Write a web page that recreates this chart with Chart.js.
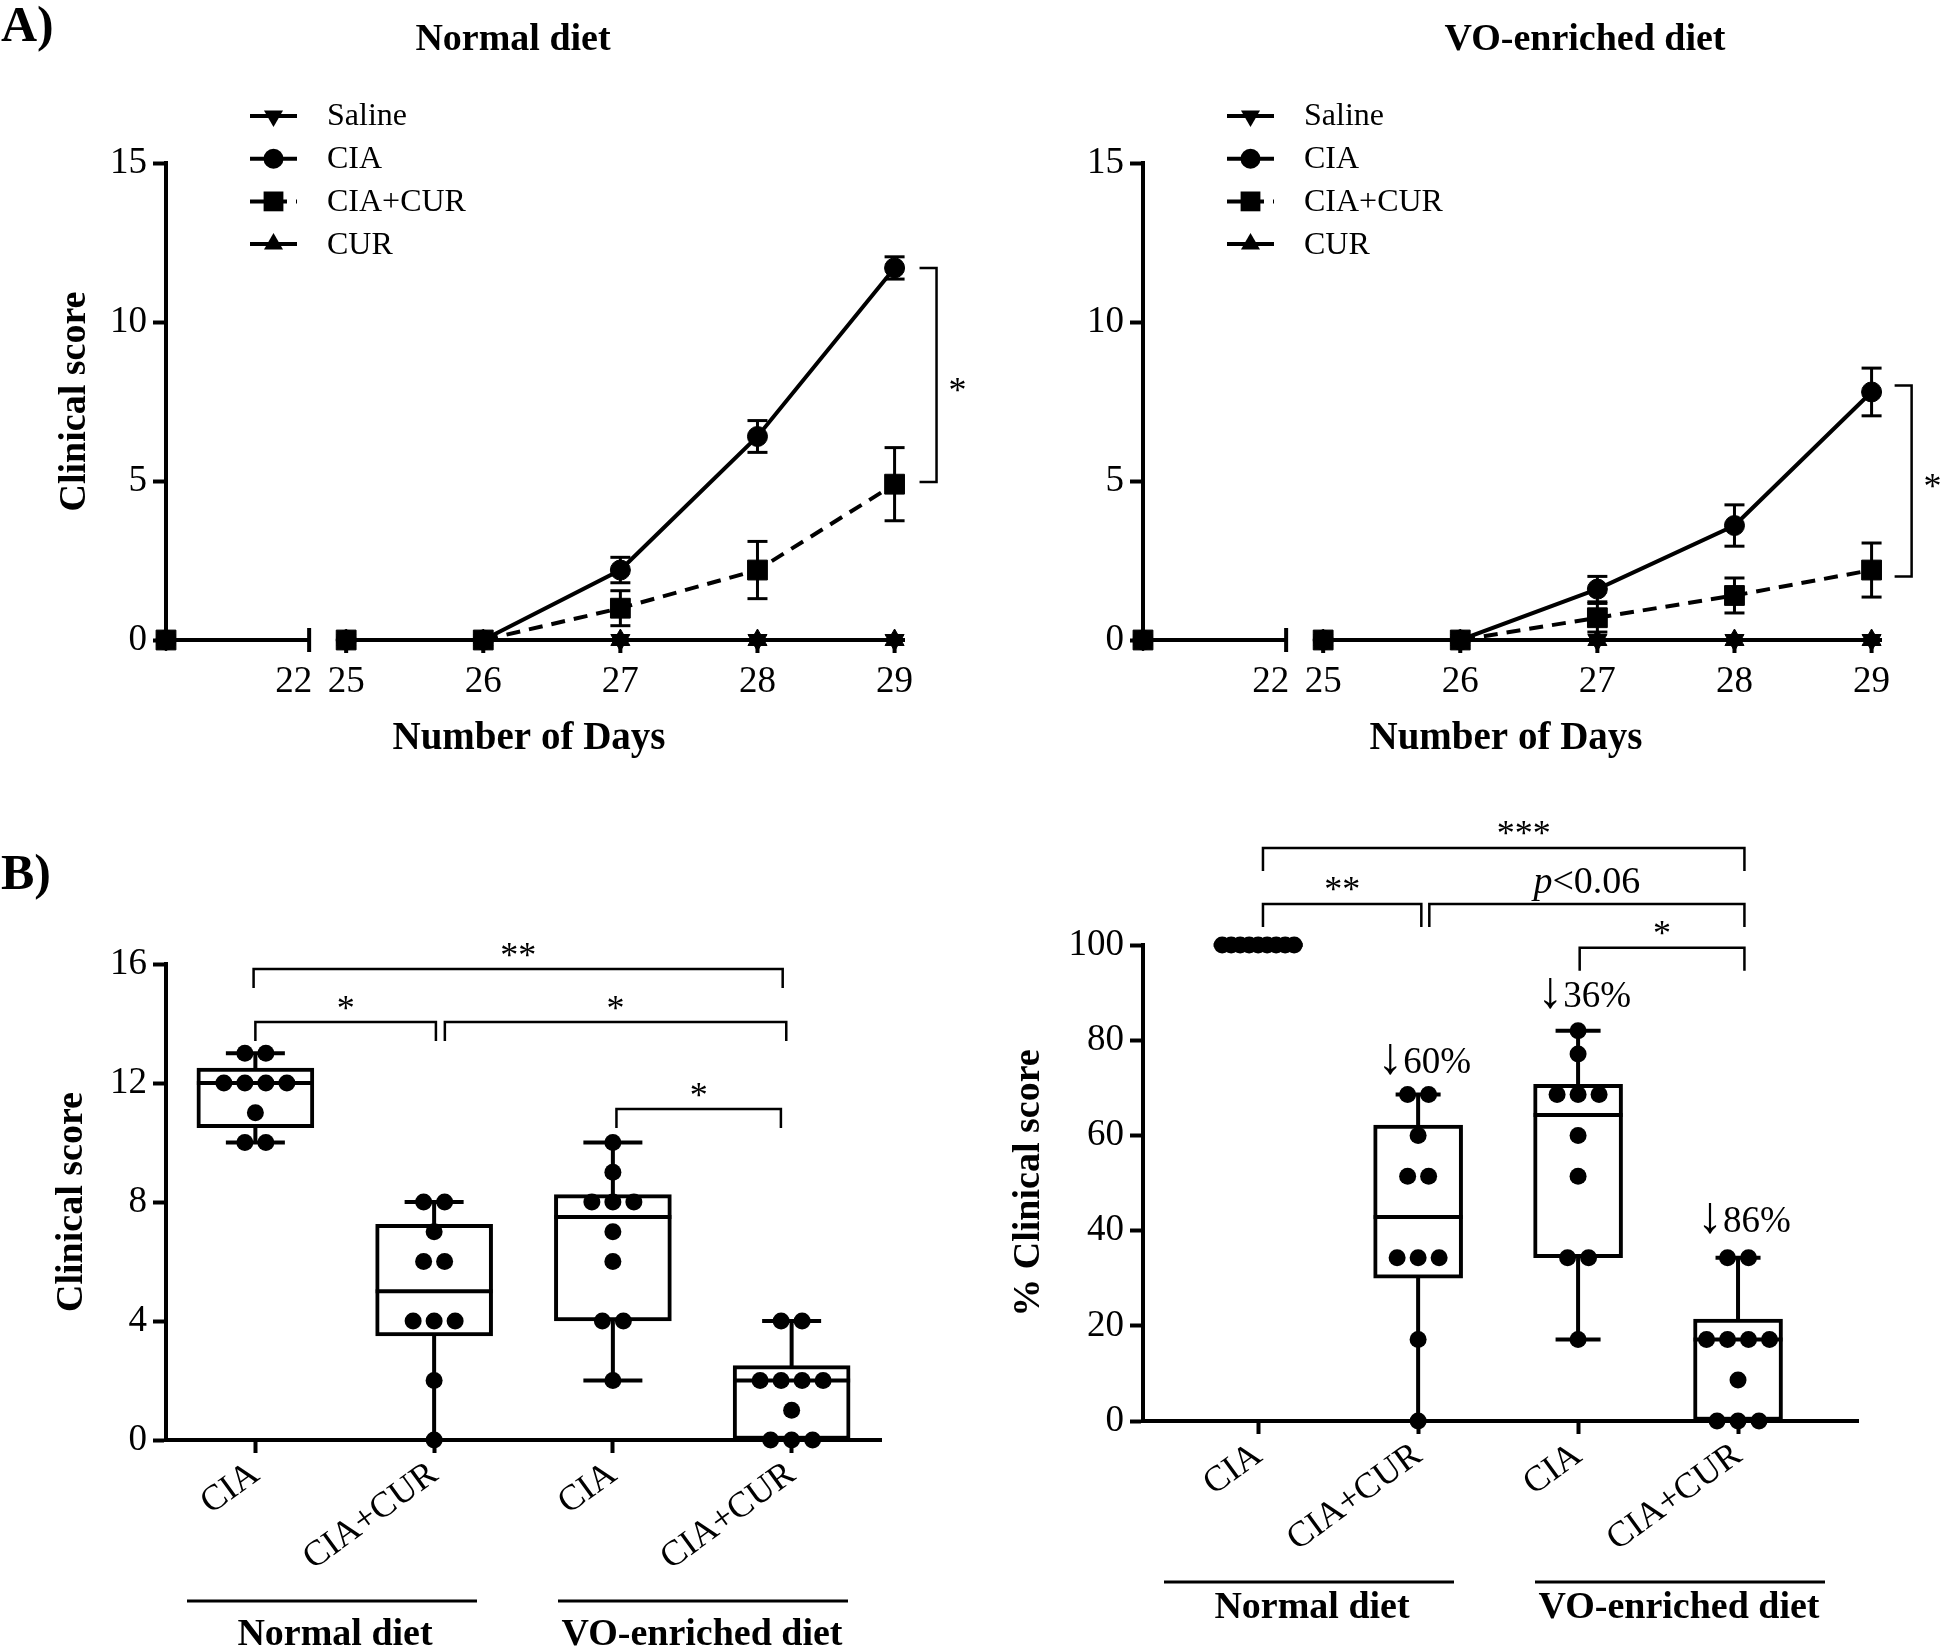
<!DOCTYPE html>
<html>
<head>
<meta charset="utf-8">
<title>Clinical score</title>
<script src="https://cdn.jsdelivr.net/npm/chart.js@4.4.1/dist/chart.umd.min.js"></script>
<style>
  html, body { margin: 0; padding: 0; background: #fff; }
  #page { position: relative; width: 1946px; height: 1650px; overflow: hidden; font-family: "Liberation Serif", "Times New Roman", serif; color: #000; }
  #page canvas { position: absolute; }
  .txt { position: absolute; font-weight: bold; white-space: nowrap; }
  .panel { font-size: 50px; line-height: 50px; }
  .title { font-size: 38px; line-height: 38px; width: 400px; text-align: center; top: 18px; }
</style>
</head>
<body>
<div id="page">
  <canvas id="chartA1" width="975" height="780" style="left:0;top:0"></canvas>
  <canvas id="chartA2" width="975" height="780" style="left:977px;top:0"></canvas>
  <canvas id="chartB1" width="975" height="850" style="left:0;top:800px"></canvas>
  <canvas id="chartB2" width="969" height="850" style="left:977px;top:800px"></canvas>
  <div class="txt panel" style="left:1px;top:-1px">A)</div>
  <div class="txt panel" style="left:1px;top:847px">B)</div>
  <div class="txt title" style="left:313px">Normal diet</div>
  <div class="txt title" style="left:1385px">VO-enriched diet</div>
</div>
<script>
Chart.defaults.font.family = '"Liberation Serif", "Times New Roman", serif';
Chart.defaults.color = '#000';
Chart.defaults.animation = false;

const SERIF = '"Liberation Serif", "Times New Roman", serif';

// ---------- A) clinical score over time ----------
const days = [0, 25, 26, 27, 28, 29];
const dayTicks = [22, 25, 26, 27, 28, 29];

// normal diet
const normSaline = [0, 0, 0, 0, 0, 0];
const normCIA = [0, 0, 0, 2.2, 6.4, 11.7];
const normCIAsem = [0, 0, 0, 0.4, 0.5, 0.35];
const normCIACUR = [0, 0, 0, 1.0, 2.2, 4.9];
const normCIACURsem = [0, 0, 0, 0.55, 0.9, 1.15];
const normCUR = [0, 0, 0, 0, 0, 0];

// VO-enriched diet
const voSaline = [0, 0, 0, 0, 0, 0];
const voCIA = [0, 0, 0, 1.6, 3.6, 7.8];
const voCIAsem = [0, 0, 0, 0.4, 0.65, 0.75];
const voCIACUR = [0, 0, 0, 0.7, 1.4, 2.2];
const voCIACURsem = [0, 0, 0, 0.45, 0.55, 0.85];
const voCUR = [0, 0, 0, 0, 0, 0];

// broken x axis: 0-22 squeezed into a short first segment, then 25..29
const SEG1 = 1.044, DAY25 = 1.314;
function axisPos(d) { return d <= 22 ? d / 22 * SEG1 : DAY25 + (d - 25); }

const seriesStyle = {
  'Saline':  { pointStyle: 'triangle', rotation: 180, radius: 11, dash: [] },
  'CIA':     { pointStyle: 'circle', rotation: 0, radius: 10, dash: [] },
  'CIA+CUR': { pointStyle: 'rect', rotation: 0, radius: 14, dash: [14, 9] },
  'CUR':     { pointStyle: 'triangle', rotation: 0, radius: 11, dash: [] }
};

function marker(ctx, st, x, y) {
  const r = st.radius;
  ctx.beginPath();
  if (st.pointStyle === 'circle') {
    ctx.arc(x, y, r, 0, Math.PI * 2);
  } else if (st.pointStyle === 'rect') {
    const h = r * Math.SQRT1_2;
    ctx.rect(x - h, y - h, 2 * h, 2 * h);
  } else {
    const s = st.rotation ? -1 : 1;
    ctx.moveTo(x, y - s * r);
    ctx.lineTo(x + r * 0.866, y + s * r / 2);
    ctx.lineTo(x - r * 0.866, y + s * r / 2);
    ctx.closePath();
  }
  ctx.fill();
}

function lineSet(label, vals, order) {
  const st = seriesStyle[label];
  return {
    type: 'line', label: label, order: order,
    data: days.map((d, i) => ({ x: axisPos(d), y: vals[i] })),
    borderColor: '#000', borderWidth: 4, borderDash: st.dash,
    pointStyle: st.pointStyle, pointRotation: st.rotation, pointRadius: st.radius,
    pointBackgroundColor: '#000', pointBorderColor: '#000', pointBorderWidth: 1,
    segment: {
      // no line across the axis break
      borderColor: c => (c.p0.parsed.x < SEG1 + 0.01 && c.p1.parsed.x > SEG1) ? 'rgba(0,0,0,0)' : undefined
    },
    tension: 0, clip: false
  };
}

function errLines(vals, sem) {
  const pts = [];
  days.forEach((d, i) => {
    if (sem[i] > 0) pts.push({ x: axisPos(d), y: vals[i] - sem[i] }, { x: axisPos(d), y: vals[i] + sem[i] }, { x: axisPos(d), y: null });
  });
  return pts;
}
function errCaps(vals, sem) {
  const pts = [];
  days.forEach((d, i) => {
    if (sem[i] > 0) pts.push({ x: axisPos(d), y: vals[i] - sem[i] }, { x: axisPos(d), y: vals[i] + sem[i] });
  });
  return pts;
}

const brokenAxis = {
  id: 'brokenAxis',
  beforeDatasetsDraw(chart) {
    const { ctx, chartArea: a, scales: { x, y } } = chart;
    const y0 = y.getPixelForValue(0);
    const xb = x.getPixelForValue(axisPos(22));
    ctx.save();
    ctx.strokeStyle = '#000';
    ctx.lineWidth = 4;
    ctx.beginPath();
    ctx.moveTo(a.left, y0); ctx.lineTo(xb, y0);
    ctx.moveTo(x.getPixelForValue(DAY25 - 0.06), y0); ctx.lineTo(a.right, y0);
    ctx.moveTo(xb, y0 - 12); ctx.lineTo(xb, y0 + 12);
    dayTicks.slice(1).forEach(d => {
      const px = x.getPixelForValue(axisPos(d));
      ctx.moveTo(px, y0); ctx.lineTo(px, y0 + 13);
    });
    ctx.stroke();
    ctx.fillStyle = '#000';
    ctx.font = '37px ' + SERIF;
    ctx.textBaseline = 'alphabetic';
    dayTicks.forEach(d => {
      const px = x.getPixelForValue(axisPos(d));
      if (d === 22) { ctx.textAlign = 'right'; ctx.fillText(String(d), px + 3, y0 + 52); }
      else { ctx.textAlign = 'center'; ctx.fillText(String(d), px, y0 + 52); }
    });
    // axis title
    ctx.font = 'bold 39px ' + SERIF;
    ctx.textAlign = 'center'; ctx.textBaseline = 'middle';
    ctx.fillText('Number of Days', a.left + 363, y0 + 99);
    ctx.restore();
  }
};

const legendA = {
  id: 'legendA',
  afterDraw(chart) {
    const ctx = chart.ctx;
    ctx.save();
    ctx.fillStyle = '#000'; ctx.strokeStyle = '#000'; ctx.lineWidth = 4;
    ctx.font = '32px ' + SERIF;
    ctx.textAlign = 'left'; ctx.textBaseline = 'middle';
    Object.keys(seriesStyle).forEach((name, i) => {
      const st = seriesStyle[name];
      const yy = 116 + i * 42.7;
      ctx.setLineDash(st.dash);
      ctx.beginPath(); ctx.moveTo(250, yy); ctx.lineTo(297, yy); ctx.stroke();
      ctx.setLineDash([]);
      marker(ctx, st, 273.5, yy);
      ctx.fillText(name, 327, yy + 1);
    });
    ctx.restore();
  }
};

const sigA = {
  id: 'sigA',
  afterDatasetsDraw(chart, args, o) {
    const { ctx, scales: { x, y } } = chart;
    const xp = x.getPixelForValue(o.at);
    const y1 = y.getPixelForValue(o.top), y2 = y.getPixelForValue(o.bottom);
    ctx.save();
    ctx.strokeStyle = '#000'; ctx.lineWidth = 2.5;
    ctx.beginPath();
    ctx.moveTo(xp - 17, y1); ctx.lineTo(xp, y1); ctx.lineTo(xp, y2); ctx.lineTo(xp - 17, y2);
    ctx.stroke();
    ctx.fillStyle = '#000'; ctx.font = '36px ' + SERIF;
    ctx.textAlign = 'center'; ctx.textBaseline = 'alphabetic';
    ctx.fillText('*', xp + 21, (y1 + y2) / 2 + 17 + o.starDy);
    ctx.restore();
  }
};

function timeCourse(id, s, sig, showYTitle) {
  new Chart(document.getElementById(id), {
    type: 'line',
    data: {
      datasets: [
        { type: 'line', data: errLines(s.cia, s.ciaSem).concat(errLines(s.ciaCur, s.ciaCurSem)),
          borderColor: '#000', borderWidth: 3, pointRadius: 0, spanGaps: false, order: 10, clip: false },
        { type: 'scatter', data: errCaps(s.cia, s.ciaSem).concat(errCaps(s.ciaCur, s.ciaCurSem)),
          pointStyle: 'line', pointRadius: 10, pointBorderWidth: 3, pointBorderColor: '#000', order: 9, clip: false },
        lineSet('Saline', s.saline, 4),
        lineSet('CIA', s.cia, 2),
        lineSet('CIA+CUR', s.ciaCur, 1),
        lineSet('CUR', s.cur, 3)
      ]
    },
    options: {
      responsive: false,
      events: [],
      layout: { padding: { left: 0, top: 163, right: 70, bottom: 20 }, autoPadding: false },
      plugins: { legend: { display: false }, tooltip: { enabled: false }, sigA: sig },
      scales: {
        x: {
          type: 'linear', min: 0, max: 5.39,
          grid: { display: false }, border: { display: false }, ticks: { display: false },
          afterFit: sc => { sc.height = 120; }
        },
        y: {
          min: 0, max: 15,
          ticks: { stepSize: 5, font: { size: 37 }, padding: 6 },
          grid: { drawOnChartArea: false, tickLength: 13, tickWidth: 4, color: '#000' },
          border: { width: 4, color: '#000' },
          title: { display: showYTitle, text: 'Clinical score', font: { size: 38, weight: 'bold' }, padding: { top: 52 } },
          afterFit: sc => { sc.width = 166; }
        }
      }
    },
    plugins: [brokenAxis, legendA, sigA]
  });
}

timeCourse('chartA1',
  { saline: normSaline, cia: normCIA, ciaSem: normCIAsem, ciaCur: normCIACUR, ciaCurSem: normCIACURsem, cur: normCUR },
  { at: 5.62, top: 11.7, bottom: 4.97, starDy: 10 }, true);
timeCourse('chartA2',
  { saline: voSaline, cia: voCIA, ciaSem: voCIAsem, ciaCur: voCIACUR, ciaCurSem: voCIACURsem, cur: voCUR },
  { at: 5.606, top: 8.0, bottom: 2.0, starDy: 0 }, false);

// ---------- B) individual scores at day 29 ----------
const groupLabels = ['CIA', 'CIA+CUR', 'CIA', 'CIA+CUR'];

const scoreNormCIA = [13, 13, 12, 12, 12, 12, 11, 10, 10];
const scoreNormCUR = [8, 8, 7, 6, 6, 4, 4, 4, 2, 0];
const scoreVoCIA = [10, 9, 8, 8, 8, 7, 6, 4, 4, 2];
const scoreVoCUR = [4, 4, 2, 2, 2, 2, 1, 0, 0, 0];

const pctNormCIA = [100, 100, 100, 100, 100, 100, 100, 100, 100];
const pctNormCUR = [68.6, 68.6, 60, 51.4, 51.4, 34.3, 34.3, 34.3, 17.1, 0];
const pctVoCIA = [82, 77.1, 68.6, 68.6, 68.6, 60, 51.4, 34.3, 34.3, 17.1];
const pctVoCUR = [34.3, 34.3, 17.1, 17.1, 17.1, 17.1, 8.6, 0, 0, 0];

// quartiles at rank p*(n+1), as in GraphPad
function quantile(sorted, p) {
  const n = sorted.length, r = p * (n + 1);
  if (r <= 1) return sorted[0];
  if (r >= n) return sorted[n - 1];
  const lo = Math.floor(r), f = r - lo;
  return sorted[lo - 1] + f * (sorted[lo] - sorted[lo - 1]);
}
function boxStats(vals) {
  const s = vals.slice().sort((a, b) => a - b);
  return { min: s[0], max: s[s.length - 1], q1: quantile(s, 0.25), med: quantile(s, 0.5), q3: quantile(s, 0.75) };
}
// spread equal values side by side
function dotCloud(groups, unitPx, boxW) {
  const out = [];
  groups.forEach((vals, gi) => {
    const counts = new Map();
    vals.forEach(v => counts.set(v, (counts.get(v) || 0) + 1));
    counts.forEach((c, v) => {
      const gap = c > 1 ? Math.min(21, (boxW - 17) / (c - 1)) : 0;
      for (let j = 0; j < c; j++) out.push({ x: gi + (j - (c - 1) / 2) * gap / unitPx, y: v });
    });
  });
  return out;
}

const boxNotes = {
  id: 'boxNotes',
  afterDraw(chart, args, o) {
    const { ctx, chartArea: a, scales: { x, y } } = chart;
    ctx.save();
    ctx.strokeStyle = '#000'; ctx.fillStyle = '#000';
    ctx.textAlign = 'center'; ctx.textBaseline = 'alphabetic';
    ctx.lineWidth = 2.5;
    o.brackets.forEach(b => {
      const x1 = x.getPixelForValue(b.from), x2 = x.getPixelForValue(b.to), yt = y.getPixelForValue(b.y);
      ctx.beginPath();
      ctx.moveTo(x1, yt + o.drop); ctx.lineTo(x1, yt); ctx.lineTo(x2, yt); ctx.lineTo(x2, yt + o.drop);
      ctx.stroke();
      const lx = x.getPixelForValue(b.labelAt !== undefined ? b.labelAt : (b.from + b.to) / 2);
      if (b.text.charAt(0) === 'p') {
        ctx.font = 'italic 38px ' + SERIF;
        const wp = ctx.measureText('p').width;
        ctx.font = '38px ' + SERIF;
        const wr = ctx.measureText(b.text.slice(1)).width;
        const x0 = lx - (wp + wr) / 2;
        ctx.textAlign = 'left';
        ctx.font = 'italic 38px ' + SERIF;
        ctx.fillText('p', x0, yt - 11);
        ctx.font = '38px ' + SERIF;
        ctx.fillText(b.text.slice(1), x0 + wp, yt - 11);
        ctx.textAlign = 'center';
      } else {
        ctx.font = '36px ' + SERIF;
        ctx.fillText(b.text, lx, yt - o.starLift);
      }
    });
    // reduction notes: tall arrow then the percentage
    (o.notes || []).forEach(n => {
      const cx = x.getPixelForValue(n.at) + 6, by = y.getPixelForValue(n.y);
      const arrow = n.text.charAt(0), rest = n.text.slice(1);
      ctx.font = '52px ' + SERIF;
      const wa = ctx.measureText(arrow).width;
      ctx.font = '37px ' + SERIF;
      const wr = ctx.measureText(rest).width;
      const x0 = cx - (wa + wr) / 2;
      ctx.textAlign = 'left';
      ctx.font = '52px ' + SERIF;
      ctx.fillText(arrow, x0, by);
      ctx.font = '37px ' + SERIF;
      ctx.fillText(rest, x0 + wa, by);
      ctx.textAlign = 'center';
    });
    // diet groups under the axis
    ctx.lineWidth = 3;
    ctx.font = 'bold 38px ' + SERIF;
    o.groups.forEach(g => {
      ctx.beginPath();
      ctx.moveTo(a.left + g.from, a.bottom + 161); ctx.lineTo(a.left + g.to, a.bottom + 161);
      ctx.stroke();
      ctx.fillText(g.text, a.left + g.center, a.bottom + o.groupTextDy);
    });
    ctx.restore();
  }
};

const dietGroups = [
  { from: 21, to: 311, center: 169, text: 'Normal diet' },
  { from: 392, to: 682, center: 536, text: 'VO-enriched diet' }
];

function boxChart(id, groups, cfg) {
  const stats = groups.map(boxStats);
  const whiskers = [], caps = [];
  stats.forEach((s, i) => {
    whiskers.push({ x: i, y: s.min }, { x: i, y: s.max }, { x: i, y: null });
    caps.push({ x: i, y: s.min }, { x: i, y: s.max });
  });
  new Chart(document.getElementById(id), {
    type: 'bar',
    data: {
      datasets: [
        { type: 'line', data: whiskers, borderColor: '#000', borderWidth: 4, pointRadius: 0, spanGaps: false, order: 5, clip: false },
        { type: 'bar', data: stats.map((s, i) => ({ x: i, y: [s.q1, s.q3] })),
          backgroundColor: '#fff', borderColor: '#000', borderWidth: 4, borderSkipped: false,
          barThickness: cfg.boxW, order: 4, clip: false },
        { type: 'scatter', data: stats.map((s, i) => ({ x: i, y: s.med })),
          pointStyle: 'line', pointRadius: cfg.boxW / 2, pointBorderWidth: 4, pointBorderColor: '#000', order: 3, clip: false },
        { type: 'scatter', data: caps,
          pointStyle: 'line', pointRadius: cfg.capR, pointBorderWidth: 4, pointBorderColor: '#000', order: 2, clip: false },
        { type: 'scatter', data: dotCloud(groups, cfg.unitPx, cfg.boxW),
          pointStyle: 'circle', pointRadius: 8.5, pointBackgroundColor: '#000', pointBorderColor: '#000', pointBorderWidth: 0, order: 1, clip: false }
      ]
    },
    options: {
      responsive: false,
      events: [],
      layout: { padding: { left: 0, top: cfg.top, right: cfg.padRight, bottom: cfg.padBottom }, autoPadding: false },
      plugins: { legend: { display: false }, tooltip: { enabled: false }, boxNotes: cfg.notes },
      scales: {
        x: {
          type: 'linear', min: cfg.xmin, max: cfg.xmax, offset: false,
          afterBuildTicks: sc => { sc.ticks = groupLabels.map((g, i) => ({ value: i })); },
          ticks: { callback: v => groupLabels[v], autoSkip: false, minRotation: 36, maxRotation: 36, font: { size: 36 }, padding: 0 },
          grid: { drawOnChartArea: false, offset: false, tickLength: 13, tickWidth: 4, color: '#000' },
          border: { width: 4, color: '#000' },
          afterFit: sc => { sc.height = 150; }
        },
        y: {
          min: 0, max: cfg.ymax,
          ticks: { stepSize: cfg.ystep, font: { size: 37 }, padding: 6 },
          grid: { drawOnChartArea: false, tickLength: 13, tickWidth: 4, color: '#000' },
          border: { width: 4, color: '#000' },
          title: { display: true, text: cfg.yTitle, font: { size: 38, weight: 'bold' }, padding: { top: cfg.yTitlePad } },
          afterFit: sc => { sc.width = 166; }
        }
      }
    },
    plugins: [boxNotes]
  });
}

boxChart('chartB1', [scoreNormCIA, scoreNormCUR, scoreVoCIA, scoreVoCUR], {
  xmin: -0.5, xmax: 3.5, unitPx: 178.75, boxW: 117, capR: 29.5,
  ymax: 16, ystep: 4, yTitle: 'Clinical score', yTitlePad: 49,
  top: 164, padRight: 94, padBottom: 60,
  notes: {
    drop: 19, starLift: 2, groupTextDy: 205, groups: dietGroups,
    brackets: [
      { from: -0.01, to: 2.95, y: 15.83, text: '**' },
      { from: 0.0, to: 1.01, y: 14.05, text: '*' },
      { from: 1.06, to: 2.97, y: 14.05, text: '*' },
      { from: 2.02, to: 2.94, y: 11.13, text: '*' }
    ]
  }
});

boxChart('chartB2', [pctNormCIA, pctNormCUR, pctVoCIA, pctVoCUR], {
  xmin: -0.72, xmax: 3.75, unitPx: 160, boxW: 89, capR: 22.5,
  ymax: 100, ystep: 20, yTitle: '% Clinical score', yTitlePad: 29,
  top: 145, padRight: 88, padBottom: 79,
  notes: {
    drop: 23, starLift: 3, groupTextDy: 197, groups: dietGroups,
    brackets: [
      { from: 0.03, to: 3.04, y: 120.4, text: '***', labelAt: 1.66 },
      { from: 0.03, to: 1.02, y: 108.6, text: '**' },
      { from: 1.07, to: 3.04, y: 108.6, text: 'p<0.06' },
      { from: 2.01, to: 3.04, y: 99.4, text: '*' }
    ],
    notes: [
      { at: 1, y: 73.1, text: '↓60%' },
      { at: 2, y: 87, text: '↓36%' },
      { at: 3, y: 39.7, text: '↓86%' }
    ]
  }
});
</script>
</body>
</html>
